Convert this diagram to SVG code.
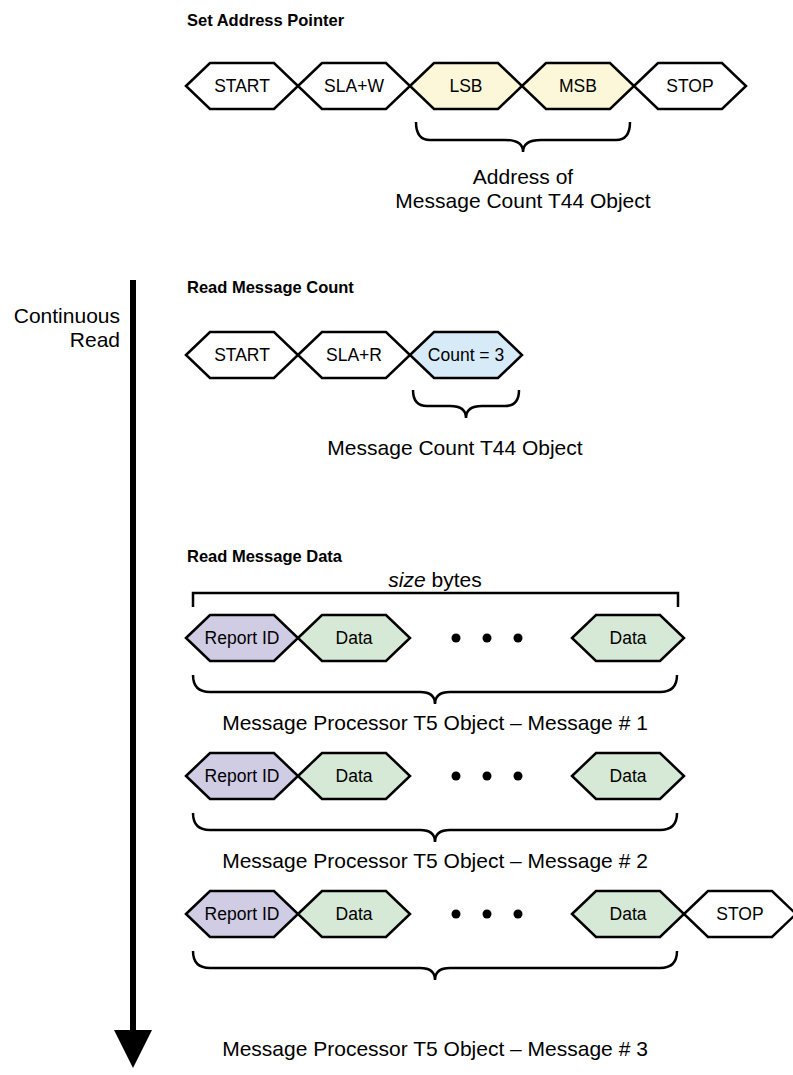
<svg xmlns="http://www.w3.org/2000/svg" width="793" height="1075" viewBox="0 0 793 1075">
<style>
.hx{stroke:#000;stroke-width:2.5;stroke-linejoin:miter}
.w{fill:#fff}.y{fill:#fcf7d8}.b{fill:#d6eaf8}.p{fill:#d0cce4}.g{fill:#d6e9d6}
.t{font-family:"Liberation Sans",Arial,sans-serif;font-size:17.5px;fill:#000;text-anchor:middle}
.l{font-family:"Liberation Sans",Arial,sans-serif;font-size:21px;fill:#000;text-anchor:middle}
.s{font-family:"Liberation Sans",Arial,sans-serif;font-size:21px;fill:#000;text-anchor:end}
.h{font-family:"Liberation Sans",Arial,sans-serif;font-size:16.5px;font-weight:bold;fill:#000}
.br{fill:none;stroke:#000;stroke-width:2.5}
</style>
<defs>
<polygon id="hex" points="0,0 24,-23 88,-23 112,0 88,23 24,23"/>
</defs>
<text class="h" x="187" y="26">Set Address Pointer</text>
<g id="row1">
<g id="n-start1"><use href="#hex" class="hx w" x="186" y="86"/><text class="t" x="242" y="92">START</text></g>
<g id="n-slaw"><use href="#hex" class="hx w" x="298" y="86"/><text class="t" x="354" y="92">SLA+W</text></g>
<g id="n-lsb"><use href="#hex" class="hx y" x="410" y="86"/><text class="t" x="466" y="92">LSB</text></g>
<g id="n-msb"><use href="#hex" class="hx y" x="522" y="86"/><text class="t" x="578" y="92">MSB</text></g>
<g id="n-stop1"><use href="#hex" class="hx w" x="634" y="86"/><text class="t" x="690" y="92">STOP</text></g>
</g>
<g id="connectors">
<path class="br" d="M416,122 Q416,140 430,140 L505,140 Q523,140 523,152 Q523,140 541,140 L616,140 Q630,140 630,122"/>
<path class="br" d="M413,390 Q413,406 427,406 L450,406 Q466,406 466,418 Q466,406 482,406 L505,406 Q519,406 519,390"/>
<path class="br" d="M193,607 L193,593 L678,593 L678,607" stroke-width="2"/>
<path class="br" d="M193,675 Q193,692 210,692 L420,692 Q435,692 435,704 Q435,692 450,692 L660,692 Q677,692 677,675"/>
<path class="br" d="M193,813 Q193,830 210,830 L420,830 Q435,830 435,842 Q435,830 450,830 L660,830 Q677,830 677,813"/>
<path class="br" d="M193,951 Q193,968 210,968 L420,968 Q435,968 435,980 Q435,968 450,968 L660,968 Q677,968 677,951"/>
</g>
<text class="l" x="523" y="184">Address of</text>
<text class="l" x="523" y="208">Message Count T44 Object</text>

<g id="arrow">
<line x1="133" y1="280" x2="133" y2="1035" stroke="#000" stroke-width="6"/>
<polygon points="114,1030 152,1030 133,1068" fill="#000"/>
</g>
<text class="s" x="120" y="323">Continuous</text>
<text class="s" x="120" y="347">Read</text>

<text class="h" x="187" y="293">Read Message Count</text>
<g id="row2">
<g id="n-start2"><use href="#hex" class="hx w" x="186" y="355"/><text class="t" x="242" y="361">START</text></g>
<g id="n-slar"><use href="#hex" class="hx w" x="298" y="355"/><text class="t" x="354" y="361">SLA+R</text></g>
<g id="n-count"><use href="#hex" class="hx b" x="410" y="355"/><text class="t" x="466" y="361">Count = 3</text></g>
</g>
<text class="l" x="455" y="455">Message Count T44 Object</text>

<text class="h" x="187" y="562">Read Message Data</text>
<text class="l" x="435" y="587"><tspan font-style="italic">size</tspan> bytes</text>

<g id="row3">
<g id="n-rid1"><use href="#hex" class="hx p" x="186" y="638"/><text class="t" x="242" y="644">Report ID</text></g>
<g id="n-d1a"><use href="#hex" class="hx g" x="298" y="638"/><text class="t" x="354" y="644">Data</text></g>
<g id="dots1"><circle cx="456" cy="638" r="4.5"/><circle cx="487" cy="638" r="4.5"/><circle cx="518" cy="638" r="4.5"/></g>
<g id="n-d1b"><use href="#hex" class="hx g" x="572" y="638"/><text class="t" x="628" y="644">Data</text></g>
</g>
<text class="l" x="435" y="730">Message Processor T5 Object – Message # 1</text>

<g id="row4">
<g id="n-rid2"><use href="#hex" class="hx p" x="186" y="776"/><text class="t" x="242" y="782">Report ID</text></g>
<g id="n-d2a"><use href="#hex" class="hx g" x="298" y="776"/><text class="t" x="354" y="782">Data</text></g>
<g id="dots2"><circle cx="456" cy="776" r="4.5"/><circle cx="487" cy="776" r="4.5"/><circle cx="518" cy="776" r="4.5"/></g>
<g id="n-d2b"><use href="#hex" class="hx g" x="572" y="776"/><text class="t" x="628" y="782">Data</text></g>
</g>
<text class="l" x="435" y="868">Message Processor T5 Object – Message # 2</text>

<g id="row5">
<g id="n-rid3"><use href="#hex" class="hx p" x="186" y="914"/><text class="t" x="242" y="920">Report ID</text></g>
<g id="n-d3a"><use href="#hex" class="hx g" x="298" y="914"/><text class="t" x="354" y="920">Data</text></g>
<g id="dots3"><circle cx="456" cy="914" r="4.5"/><circle cx="487" cy="914" r="4.5"/><circle cx="518" cy="914" r="4.5"/></g>
<g id="n-d3b"><use href="#hex" class="hx g" x="572" y="914"/><text class="t" x="628" y="920">Data</text></g>
<g id="n-stop3"><use href="#hex" class="hx w" x="684" y="914"/><text class="t" x="740" y="920">STOP</text></g>
</g>
<text class="l" x="435" y="1056">Message Processor T5 Object – Message # 3</text>
</svg>
